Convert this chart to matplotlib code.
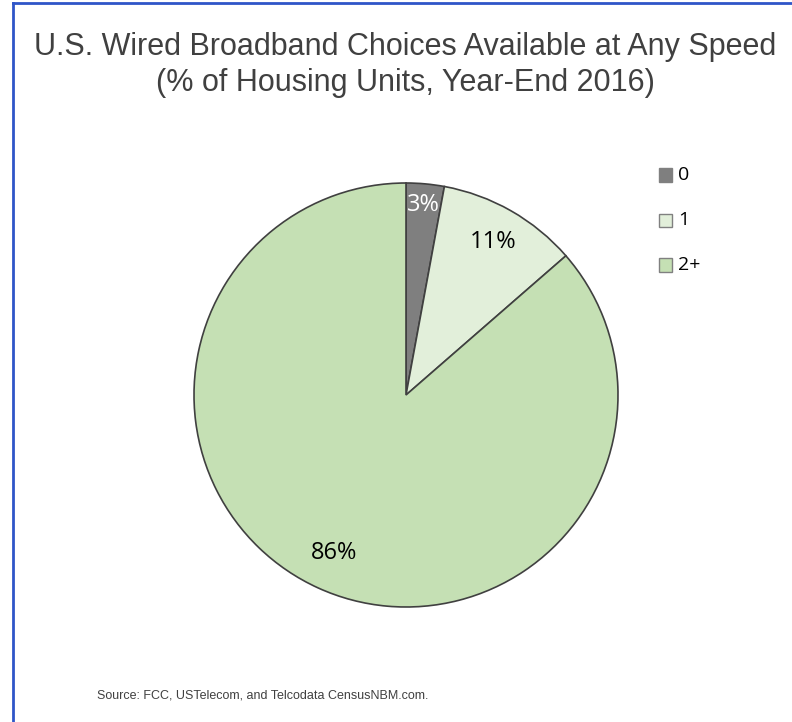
import numpy as np
import matplotlib.pyplot as plt
from matplotlib.lines import Line2D

labels = ["0", "1", "2+"]
shares = [2.9, 10.7, 86.4]
colors = ["#7f7f7f", "#e2efda", "#c5e0b4"]
pct_colors = ["white", "black", "black"]
pct_dist = [0.90, 0.83, 0.82]

title = "U.S. Wired Broadband Choices Available at Any Speed\n(% of Housing Units, Year-End 2016)"
source = "Source: FCC, USTelecom, and Telcodata CensusNBM.com."

plt.rcParams['font.family'] = ['Liberation Sans', 'DejaVu Sans']

W, H = 792, 722
fig = plt.figure(figsize=(W / 100, H / 100), dpi=100)

# pie axes: center (406, 395), radius ~212 px
r = 212
cx, cy = 406, 395
ax = fig.add_axes([(cx - r) / W, 1 - (cy + r) / H, 2 * r / W, 2 * r / H])
wedges, _ = ax.pie(shares, colors=colors, startangle=90, counterclock=False,
                   wedgeprops=dict(edgecolor="#404040", linewidth=1.2))
ax.set_xlim(-1, 1)
ax.set_ylim(-1, 1)
ax.set_aspect("equal")

for w, d, c in zip(wedges, pct_dist, pct_colors):
    ang = np.deg2rad((w.theta1 + w.theta2) / 2)
    pct = (w.theta2 - w.theta1) / 3.6
    ax.text(d * np.cos(ang), d * np.sin(ang), f"{pct:.0f}%", ha="center", va="center",
            fontsize=17, color=c, family=["Open Sans", "DejaVu Sans"])

fig.text(405 / W, 1 - 65 / H, title, ha="center", va="center", fontsize=22,
         color="#404040", linespacing=1.28)

# legend
leg_y = [175, 220, 265]
for lab, col, y in zip(labels, colors, leg_y):
    fig.patches.append(plt.Rectangle((659 / W, 1 - (y + 6.5) / H), 13 / W, 13 / H,
                                     transform=fig.transFigure, facecolor=col,
                                     edgecolor="#808080", linewidth=1))
    fig.text(678 / W, 1 - y / H, lab, ha="left", va="center", fontsize=14,
             color="black", family=["Open Sans", "DejaVu Sans"])

fig.text(97 / W, 1 - 695 / H, source, ha="left", va="center", fontsize=9,
         color="#404040")

# border (top and left visible)
bc = "#2f55c8"
fig.add_artist(Line2D([13 / W, 1], [1 - 3 / H, 1 - 3 / H], color=bc, linewidth=2,
                      transform=fig.transFigure))
fig.add_artist(Line2D([13 / W, 13 / W], [0, 1 - 3 / H], color=bc, linewidth=2,
                      transform=fig.transFigure))

fig.savefig("out.png", dpi=100)
